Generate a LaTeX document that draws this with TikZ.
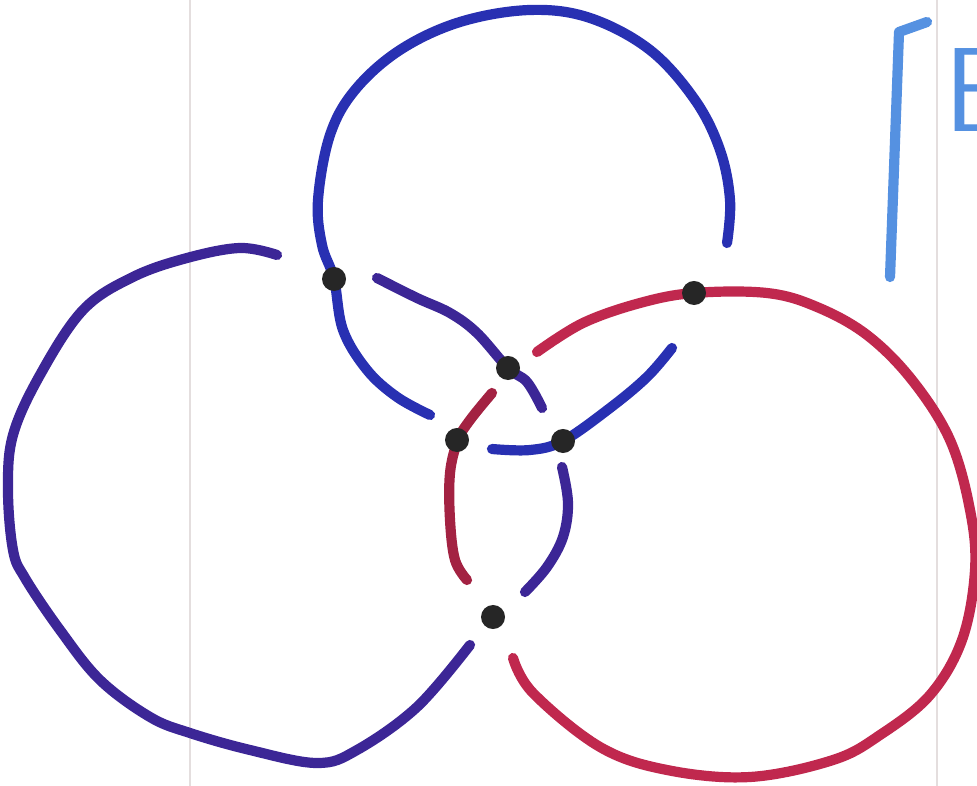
\documentclass[tikz,border=0pt]{standalone}
\usepackage{tikz}

\definecolor{topblue}{RGB}{40,48,178}
\definecolor{leftviolet}{RGB}{60,38,150}
\definecolor{rightred}{RGB}{192,40,78}
\definecolor{markblue}{RGB}{85,145,225}
\definecolor{rulegray}{RGB}{228,222,222}

\begin{document}
\begin{tikzpicture}[x=0.01cm,y=-0.01cm,
  strand/.style={line width=2.9pt,line cap=round,line join=round},
  vtx/.style={circle,fill=black!85,inner sep=0pt,minimum size=2.4mm}]
 \useasboundingbox (0,0) rectangle (977,786);
 \draw[rulegray,line width=0.7pt] (190,0) -- (190,786);
 \draw[rulegray,line width=0.7pt] (937,0) -- (937,786);
 % top circle
 \draw[strand,topblue] plot[smooth,tension=0.6] coordinates {(727,243) (730,200) (720,150) (695,100) (650,50) (590,18) (530,10) (460,22) (400,50) (355,90) (330,135) (318,200) (322,245) (334,279) (343,330) (367,370) (397,397) (430,415)};
 \draw[strand,topblue] plot[smooth,tension=0.6] coordinates {(492,449) (530,450) (563,441) (610,408) (647,377) (672,348)};
 % left circle
 \draw[strand,leftviolet] plot[smooth,tension=0.6] coordinates {(277,255) (240,248) (187,258) (133,277) (83,310) (40,375) (13,435) (8,490) (13,550) (25,578) (60,630) (100,680) (150,717) (190,733) (250,750) (317,763) (357,750) (417,707) (470,645)};
 \draw[strand,leftviolet] plot[smooth,tension=0.6] coordinates {(377,278) (417,298) (450,313) (477,333) (508,368) (527,382) (542,408)};
 \draw[strand,leftviolet] plot[smooth,tension=0.6] coordinates {(562,467) (568,503) (563,537) (547,567) (525,592)};
 % right circle
 \draw[strand,rightred] plot[smooth,tension=0.6] coordinates {(537,352) (583,323) (640,303) (694,293) (767,293) (817,307) (867,335) (912,380) (950,440) (970,510) (975,570) (962,640) (930,695) (880,735) (833,760) (750,777) (667,770) (600,747) (533,693) (513,658)};
 \draw[strand,rightred!85!black] plot[smooth,tension=0.6] coordinates {(492,393) (470,420) (458,440) (450,473) (450,520) (455,560) (467,580)};
 % crossing dots
 \node[vtx] (p1) at (334,279) {};
 \node[vtx] (p2) at (694,293) {};
 \node[vtx] (p3) at (508,368) {};
 \node[vtx] (p4) at (457,440) {};
 \node[vtx] (p5) at (563,441) {};
 \node[vtx] (p6) at (493,617) {};
 % bracket and letter at the edge
 \draw[strand,markblue] (927,22) -- (899,32) -- (890,277);
 \node[markblue,anchor=north west,inner sep=0pt,font=\fontsize{34}{34}\selectfont\sffamily] (lbl) at (944,48) {B};
\end{tikzpicture}
\end{document}
